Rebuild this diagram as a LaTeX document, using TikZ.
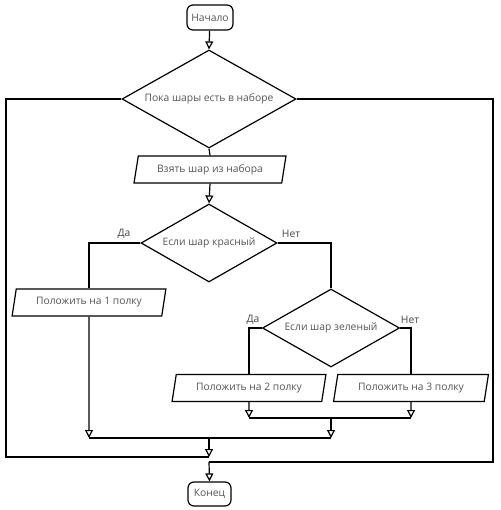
\documentclass[tikz,border=0pt]{standalone}
\usepackage{fontspec}
\setmainfont{Open Sans}
\usetikzlibrary{shapes.geometric,arrows.meta}
\definecolor{txt}{HTML}{555555}
\tikzset{
  every picture/.style={line width=1.2pt},
  base/.style={draw=black,line width=1.2pt,text=txt,font=\fontsize{10.3}{12}\selectfont,inner sep=0pt},
  term/.style={base,rounded corners=6pt,minimum width=#1,minimum height=25pt},
  dec/.style={base,diamond,aspect=1.8},
  io/.style={base,trapezium,trapezium left angle=73,trapezium right angle=107,trapezium stretches=true,minimum height=27pt},
  arr/.style={-{Triangle[open,width=8pt,length=8pt]}},
  lab/.style={text=txt!80!black,font=\fontsize{10.3}{12}\selectfont,inner sep=0pt}
}
\begin{document}
\begin{tikzpicture}[x=1pt,y=-1pt]
\useasboundingbox (0,0) rectangle (500,510);
\node[term=46pt] (start) at (210,17.5) {Начало};
\node[dec,minimum width=174pt,minimum height=98pt] (d1) at (209,99) {Пока шары есть в наборе};
\node[io,minimum width=152pt] (p0) at (210,169.5) {Взять шар из набора};
\node[dec,minimum width=136pt,minimum height=78pt] (d2) at (209,243) {Если шар красный};
\node[io,minimum width=154pt] (p1) at (89,302.5) {Положить на 1 полку};
\node[dec,minimum width=137pt,minimum height=78pt] (d3) at (331,328) {Если шар зеленый};
\node[io,minimum width=154pt] (p2) at (249,388) {Положить на 2 полку};
\node[io,minimum width=155pt] (p3) at (411,388) {Положить на 3 полку};
\node[term=43pt,minimum height=24pt] (end) at (209.5,494) {Конец};

\node[lab] (l1) at (124,234) {Да};
\node[lab] (l2) at (291,234) {Нет};
\node[lab] (l3) at (253,320) {Да};
\node[lab] (l4) at (410,320) {Нет};

\coordinate (m2) at (249,418);
\coordinate (m3) at (411,418);
\coordinate (m23) at (331,418);
\coordinate (m1) at (89,438);
\coordinate (mc) at (331,438);
\coordinate (mm) at (209,438);
\coordinate (jl) at (209,457);
\coordinate (jr) at (209,462);

\draw[arr] (start) -- (d1.north);
\draw (d1.south) -- (p0.north);
\draw[arr] (p0.south) -- (d2.north);
\draw (d2.west) -| (p1.north);
\draw (d2.east) -| (d3.north);
\draw (d3.west) -| (p2.north);
\draw (d3.east) -| (p3.north);
\draw[arr] (p2.south) -- (m2);
\draw[arr] (p3.south) -- (m3);
\draw (m2) -- (m3);
\draw[arr] (m23) -- (mc);
\draw[arr] (p1.south) -- (m1);
\draw (m1) -- (mc);
\draw[arr] (mm) -- (jl);
\draw (d1.west) -- (6,99) -- (6,457) -- (jl);
\draw (d1.east) -- (493,99) -- (493,462) -- (jr);
\draw[arr] (jr) -- (end.north);
\end{tikzpicture}
\end{document}
